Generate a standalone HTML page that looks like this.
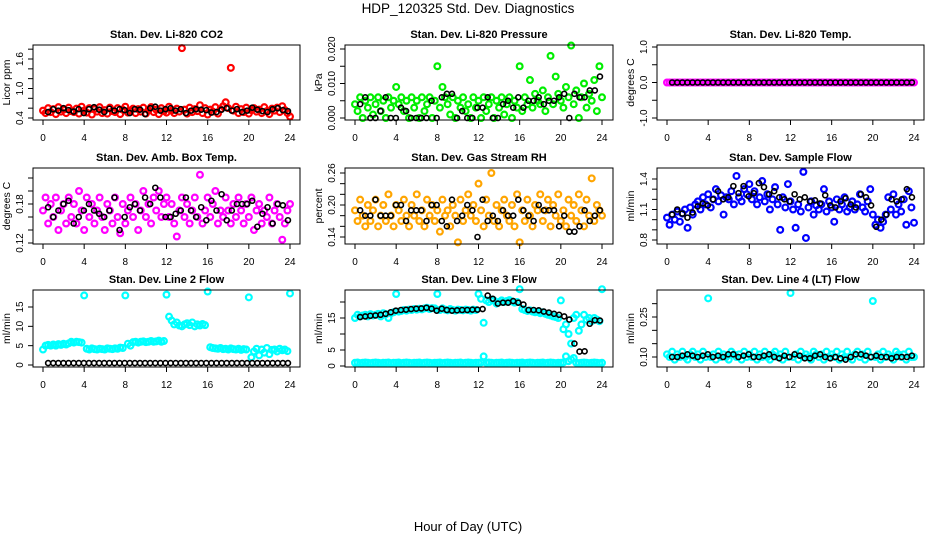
<!DOCTYPE html>
<html><head><meta charset="utf-8">
<style>
html,body{margin:0;padding:0;background:#fff;}
svg{display:block;font-family:"Liberation Sans",Arial,sans-serif;}
</style></head>
<body>
<svg id="chart" width="936" height="540" viewBox="0 0 936 540" xmlns="http://www.w3.org/2000/svg">
<text x="468" y="13" font-size="13.5" text-anchor="middle">HDP_120325  Std. Dev. Diagnostics</text>
<text x="468" y="531" font-size="13" text-anchor="middle">Hour of Day (UTC)</text>
</svg>
<script>
// ---- data ----
const xTicks = [0,4,8,12,16,20,24];
const co2Color = [.55,.50,.60,.52,.58,.48,.62,.53,.57,.50,.61,.54,.52,.59,.49,.63,.55,.51,.60,.47,.58,.53,.62,.50,.56,.49,.61,.54,.52,.60,.48,.57,.63,.51,.55,.59,.50,.58,.53,.61,.49,.56,.62,.52,.57,.48,.60,.54,.51,.63,.55,.50,.59,.53,1.82,.57,.49,.61,.52,.58,.54,.66,.50,.60,.47,.57,.53,.62,.49,.58,.64,.72,.60,1.42,.55,.63,.50,.58,.52,.61,.49,.56,.60,.53,.57,.50,.62,.54,.48,.59,.55,.61,.52,.64,.56,.50,.43];
const co2Black = [.52,.58,.55,.60,.56,.53,.58,.50,.58,.62,.57,.52,.59,.55,.58,.56,.50,.58,.57,.48,.60,.63,.55,.58,.60,.55,.58,.50,.55,.58,.57,.56,.51,.52,.57,.60,.55,.58,.52,.55,.61,.57,.54,.52,.58,.60,.56,.54];
const presColor = [.004,.002,.006,.000,.005,.003,.006,.001,.004,.006,.002,.005,.000,.006,.003,.005,.009,.004,.006,.002,.005,.000,.006,.003,.005,.000,.006,.002,.004,.006,.000,.005,.015,.003,.009,.006,.004,.001,.006,.000,.005,.003,.006,.002,.004,.000,.006,.003,.005,.000,.006,.002,.004,.006,.000,.005,.003,.006,.001,.004,.006,.000,.005,.003,.015,.002,.006,.004,.011,.003,.007,.005,.004,.008,.002,.006,.018,.004,.012,.007,.005,.003,.009,.006,.021,.004,.008,.000,.006,.010,.003,.007,.005,.011,.002,.015,.006];
const presBlack = [.004,.006,.000,.000,.002,.006,.000,.000,.003,.002,.000,.000,.000,.000,.005,.000,.006,.007,.007,.000,.002,.000,.000,.003,.003,.006,.000,.000,.004,.005,.003,.006,.003,.005,.005,.006,.004,.005,.005,.006,.007,.000,.007,.006,.006,.008,.008,.012];
const tempColor = [0,0,0,0,0,0,0,0,0,0,0,0,0,0,0,0,0,0,0,0,0,0,0,0,0,0,0,0,0,0,0,0,0,0,0,0,0,0,0,0,0,0,0,0,0,0,0,0,0,0,0,0,0,0,0,0,0,0,0,0,0,0,0,0,0,0,0,0,0,0,0,0,0,0,0,0,0,0,0,0,0,0,0,0,0,0,0,0,0,0,0,0,0,0,0,0,0];
const tempBlack = [0,0,0,0,0,0,0,0,0,0,0,0,0,0,0,0,0,0,0,0,0,0,0,0,0,0,0,0,0,0,0,0,0,0,0,0,0,0,0,0,0,0,0,0,0,0,0,0];
const ambColor = [.17,.19,.15,.18,.16,.19,.14,.17,.18,.15,.19,.16,.18,.15,.20,.17,.14,.19,.16,.18,.15,.17,.19,.16,.14,.18,.17,.15,.19,.16,.135,.18,.15,.17,.19,.16,.18,.14,.17,.20,.16,.18,.15,.19,.17,.20,.16,.18,.19,.16,.18,.15,.13,.17,.19,.16,.18,.15,.17,.19,.16,.225,.15,.17,.19,.16,.18,.20,.15,.17,.16,.19,.17,.15,.18,.16,.19,.17,.15,.18,.16,.19,.14,.17,.18,.15,.17,.16,.19,.15,.17,.18,.16,.125,.15,.17,.18];
const ambBlack = [.175,.16,.17,.18,.185,.15,.16,.17,.18,.17,.165,.16,.17,.19,.14,.16,.175,.18,.17,.19,.18,.205,.19,.16,.16,.165,.17,.19,.17,.16,.175,.155,.185,.17,.195,.155,.17,.18,.18,.18,.185,.145,.165,.175,.15,.18,.178,.155];
const rhColor = [.19,.17,.21,.18,.16,.20,.17,.19,.21,.16,.18,.20,.17,.22,.18,.16,.20,.19,.17,.21,.18,.16,.20,.18,.22,.17,.19,.16,.21,.18,.20,.17,.19,.15,.21,.18,.19,.16,.20,.18,.13,.21,.17,.19,.22,.18,.20,.17,.24,.19,.16,.21,.18,.26,.17,.20,.16,.19,.21,.18,.17,.20,.16,.22,.13,.19,.17,.21,.18,.16,.20,.19,.22,.17,.19,.21,.16,.20,.18,.22,.17,.19,.16,.21,.18,.20,.17,.22,.19,.16,.21,.18,.25,.17,.20,.19,.18];
const rhBlack = [.19,.18,.18,.21,.18,.18,.18,.20,.20,.17,.19,.19,.19,.17,.20,.20,.17,.16,.21,.17,.18,.20,.19,.14,.21,.17,.18,.17,.19,.18,.18,.21,.19,.18,.17,.20,.19,.19,.19,.16,.18,.15,.15,.16,.19,.17,.18,.19];
const flowColor = [1.02,0.95,1.05,1.00,1.08,0.98,1.06,1.10,0.92,1.12,1.05,1.15,1.18,1.10,1.22,1.15,1.25,1.12,1.20,1.30,1.18,1.24,1.05,1.22,1.20,1.28,1.15,1.43,1.22,1.18,1.30,1.25,1.35,1.20,1.28,1.15,1.22,1.38,1.18,1.25,1.10,1.20,1.32,1.15,0.90,1.22,1.12,1.35,1.18,1.10,0.92,1.15,1.08,1.47,0.82,1.12,1.18,1.05,1.14,1.10,1.15,1.30,1.08,1.18,1.12,0.98,1.20,1.10,1.15,1.22,1.08,1.12,1.18,1.10,1.15,1.25,1.12,1.08,1.18,1.30,1.05,0.95,1.00,0.92,0.98,1.05,1.22,1.10,1.25,1.05,1.15,1.08,1.20,0.95,1.28,1.12,0.97];
const flowBlack = [1.05,1.10,1.06,1.02,1.07,1.13,1.16,1.14,1.20,1.28,1.20,1.22,1.33,1.26,1.33,1.23,1.26,1.36,1.32,1.25,1.28,1.22,1.20,1.18,1.25,1.20,1.22,1.18,1.19,1.16,1.24,1.14,1.12,1.18,1.21,1.15,1.12,1.25,1.22,1.14,0.93,1.00,1.05,1.20,1.18,1.20,1.30,1.22];
const line2Color = [4,5,5.2,5,5.3,5,5.4,5.2,5.5,5.3,5.6,6,5.8,6,5.9,5.8,18,4.2,4,4.3,4.1,4,4.2,4.1,4,4.3,4.2,4.1,4.3,4.2,4.5,4.4,18,5.5,5,5.9,6,5.8,6,6.1,5.9,6,6.2,6,6.1,6.3,6,6.2,18.2,12.5,11.5,10.5,11,10.2,10,10.5,10.8,10.3,11,10,10.5,10.2,10.6,10.3,19,4.6,4.4,4.3,4.2,4.4,4.1,4.2,4,4.3,4.1,4,4.2,3.9,4.1,4,17.5,2,3.5,4.2,2.5,4,3.2,4.4,2.8,3.9,4,3.5,4.2,3.8,4,3.6,18.5];
const line2Black = [.5,.5,.5,.5,.5,.5,.5,.5,.5,.5,.5,.5,.5,.5,.5,.5,.5,.5,.5,.5,.5,.5,.5,.5,.5,.5,.5,.5,.5,.5,.5,.5,.5,.5,.5,.5,.5,.5,.5,.5,.5,.5,.5,.5,.5,.5,.5,.5];
const line3Color = [15,16,15.5,15.8,16,15.5,16.2,15.8,16,16.3,15.5,16.5,16.2,15,16.5,16.8,22.5,17,17.2,17.5,17.3,17.6,17.5,17.8,17.6,17.9,17.7,18,18.2,17.8,18.1,18,22.5,17.5,18,17.6,17.4,17.8,17.5,17.3,17.6,17.5,17.4,17.6,17.5,17.3,17.6,17.5,22.5,21,13.5,20.5,20,20.8,20.5,19.5,20,20.5,20,20.3,20.6,20.2,19.8,20,24,17.8,17.5,17.2,17.4,17,16.8,16.9,16.5,16.8,16.3,16,15.8,15.5,15.3,15,20.5,11.5,13,10,7,15,16,11,13,16,14.5,15,14,15,14.5,14,24];
const line3Low = [1,1.1,0.9,1,1.1,1,0.9,1,1.1,1,0.9,1,1,1.1,0.9,1,1,1.1,0.9,1,1.1,1,0.9,1,1,1.1,0.9,1,1.1,1,0.9,1,1,1.1,0.9,1,1.1,1,0.9,1,1,1.1,0.9,1,1.1,1,0.9,1,1,1.1,3,1,1.1,1,0.9,1,1,1.1,0.9,1,1.1,1,0.9,1,1,1.1,0.9,1,1.1,1,0.9,1,1,1.1,0.9,1,1.1,1,0.9,1,1,1.1,3,1.5,2,2.5,1,0.9,1,1.1,1,0.9,1,1.1,1,0.9,1];
const line3Black = [15.3,15.5,15.7,15.8,16,16.3,16.8,17.3,17.5,17.6,17.8,17.9,18.0,18.2,17.9,17.3,17.9,17.5,17.3,17.4,17.5,17.5,17.6,17.6,17.8,22.0,21,19.5,19.8,19.8,20.3,19.8,19.2,17.5,17.5,17.4,17,16.7,16.3,16,15.5,14.5,7,4.5,4.6,13.2,14.3,14.2];
const line4Color = [.11,.10,.12,.09,.11,.10,.12,.10,.09,.11,.12,.10,.11,.09,.12,.10,.32,.10,.11,.09,.12,.10,.11,.10,.09,.12,.11,.10,.11,.09,.12,.10,.11,.10,.12,.09,.11,.10,.12,.10,.09,.11,.12,.10,.11,.09,.12,.10,.34,.10,.11,.09,.12,.10,.11,.10,.09,.12,.11,.10,.11,.09,.12,.10,.11,.10,.12,.09,.11,.10,.12,.10,.09,.11,.12,.10,.11,.09,.12,.10,.31,.10,.11,.09,.12,.10,.11,.10,.09,.12,.11,.10,.11,.09,.12,.10,.10];
const line4Black = [.10,.10,.105,.11,.105,.10,.105,.11,.10,.105,.10,.11,.11,.10,.105,.11,.10,.10,.105,.11,.10,.095,.105,.10,.11,.105,.095,.095,.105,.11,.10,.095,.10,.095,.09,.10,.11,.11,.105,.10,.105,.10,.10,.095,.10,.10,.10,.105];

// ---- layout (not data) ----
const cols = [{l:33,r:300,x0:43},{l:345,r:613,x0:355},{l:657,r:924,x0:667}];
const rows = [{t:45,b:120},{t:168,b:244},{t:290,b:367}];
const panels = [
 {name:'co2',title:'Stan. Dev. Li-820 CO2',ylab:'Licor ppm',c:0,r:0,va:0.4,pa:118,vb:1.6,pb:59,ticks:[0.4,0.6,0.8,1.0,1.2,1.4,1.6,1.8],labels:[[0.4,'0.4'],[1.0,'1.0'],[1.6,'1.6']],color:'#ff0000',col:co2Color,blk:co2Black},
 {name:'pressure',title:'Stan. Dev. Li-820 Pressure',ylab:'kPa',c:1,r:0,va:0,pa:118,vb:0.02,pb:49,ticks:[0,0.005,0.01,0.015,0.02],labels:[[0,'0.000'],[0.01,'0.010'],[0.02,'0.020']],color:'#00ee00',col:presColor,blk:presBlack},
 {name:'licor-temp',title:'Stan. Dev. Li-820 Temp.',ylab:'degrees C',c:2,r:0,va:-1,pa:118,vb:1,pb:47,ticks:[-1,-0.5,0,0.5,1],labels:[[-1,'-1.0'],[0,'0.0'],[1,'1.0']],color:'#ff00ff',col:tempColor,blk:tempBlack},
 {name:'amb-box-temp',title:'Stan. Dev. Amb. Box Temp.',ylab:'degrees C',c:0,r:1,va:0.12,pa:243,vb:0.18,pb:204,ticks:[0.12,0.14,0.16,0.18,0.20,0.22],labels:[[0.12,'0.12'],[0.18,'0.18']],color:'#ff00ff',col:ambColor,blk:ambBlack},
 {name:'gas-rh',title:'Stan. Dev. Gas Stream RH',ylab:'percent',c:1,r:1,va:0.14,pa:237,vb:0.26,pb:173,ticks:[0.14,0.16,0.18,0.20,0.22,0.24,0.26],labels:[[0.14,'0.14'],[0.20,'0.20'],[0.26,'0.26']],color:'#ffa500',col:rhColor,blk:rhBlack},
 {name:'sample-flow',title:'Stan. Dev. Sample Flow',ylab:'ml/min',c:2,r:1,va:0.8,pa:240,vb:1.4,pb:179,ticks:[0.8,0.9,1.0,1.1,1.2,1.3,1.4],labels:[[0.8,'0.8'],[1.1,'1.1'],[1.4,'1.4']],color:'#0000ff',col:flowColor,blk:flowBlack},
 {name:'line2-flow',title:'Stan. Dev. Line 2 Flow',ylab:'ml/min',c:0,r:2,va:0,pa:365,vb:15,pb:307,ticks:[0,5,10,15],labels:[[0,'0'],[5,'5'],[10,'10'],[15,'15']],color:'#00ffff',col:line2Color,blk:line2Black},
 {name:'line3-flow',title:'Stan. Dev. Line 3 Flow',ylab:'ml/min',c:1,r:2,va:0,pa:366,vb:15,pb:318,ticks:[0,5,10,15,20],labels:[[0,'0'],[5,'5'],[15,'15']],color:'#00ffff',col:line3Color,low:line3Low,blk:line3Black},
 {name:'line4-flow',title:'Stan. Dev. Line 4 (LT) Flow',ylab:'ml/min',c:2,r:2,va:0.10,pa:357,vb:0.25,pb:317,ticks:[0.10,0.15,0.20,0.25,0.30],labels:[[0.10,'0.10'],[0.25,'0.25']],color:'#00ffff',col:line4Color,blk:line4Black}
];
const NS='http://www.w3.org/2000/svg';
const svg=document.getElementById('chart');
function mk(tag,attrs,parent){const e=document.createElementNS(NS,tag);for(const k in attrs)e.setAttribute(k,attrs[k]);(parent||svg).appendChild(e);return e;}
panels.forEach(p=>{
  const C=cols[p.c],R=rows[p.r];
  const g=mk('g',{});
  
  
  const xs=h=>C.x0+h*247/24;
  const ys=v=>p.pa+(v-p.va)*(p.pb-p.pa)/(p.vb-p.va);
  const cx=(C.l+C.r)/2;
  const t=mk('text',{x:cx,y:R.t-7,'font-size':11,'font-weight':'bold','text-anchor':'middle'},g);t.textContent=p.title;
  
  
  const clip=mk('g',{},g);
  const n=p.col.length;
  const drawPts=(arr)=>arr.forEach((v,i)=>{
    const c=mk('circle',{cx:xs(i*24/(n-1)),cy:ys(v),r:2.9,fill:'none',stroke:p.color,'stroke-width':2.2},clip);
    
    
  });
  if(p.low) drawPts(p.low);
  drawPts(p.col);
  const m=p.blk.length;
  p.blk.forEach((v,i)=>{
    const c=mk('circle',{cx:xs(0.5+i*23.3/(m-1)),cy:ys(v),r:2.5,fill:'none',stroke:'#000','stroke-width':1.6},clip);
    
    
  });
  const box=mk('rect',{x:C.l,y:R.t,width:C.r-C.l,height:R.b-R.t,fill:'none',stroke:'#000','stroke-width':1},g);
  
  
  xTicks.forEach(h=>{
    mk('line',{x1:xs(h),x2:xs(h),y1:R.b,y2:R.b+5,stroke:'#000'},g);
    const tl=mk('text',{x:xs(h),y:R.b+21,'font-size':10,'text-anchor':'middle'},g);tl.textContent=h;
    
    
  });
  p.ticks.forEach(v=>{const y=ys(v);if(y>=R.t-1&&y<=R.b+1)mk('line',{x1:C.l-5,x2:C.l,y1:y,y2:y,stroke:'#000'},g);});
  p.labels.forEach(([v,s])=>{
    const y=ys(v),x=C.l-10;
    const tl=mk('text',{x:x,y:y,'font-size':10,'text-anchor':'middle',transform:`rotate(-90 ${x} ${y})`},g);tl.textContent=s;
    
    
  });
  const yt=C.l-23,ym=(R.t+R.b)/2;
  const yl=mk('text',{x:yt,y:ym,'font-size':10.5,'text-anchor':'middle',transform:`rotate(-90 ${yt} ${ym})`},g);yl.textContent=p.ylab;
  
  
});
</script>
</body></html>
